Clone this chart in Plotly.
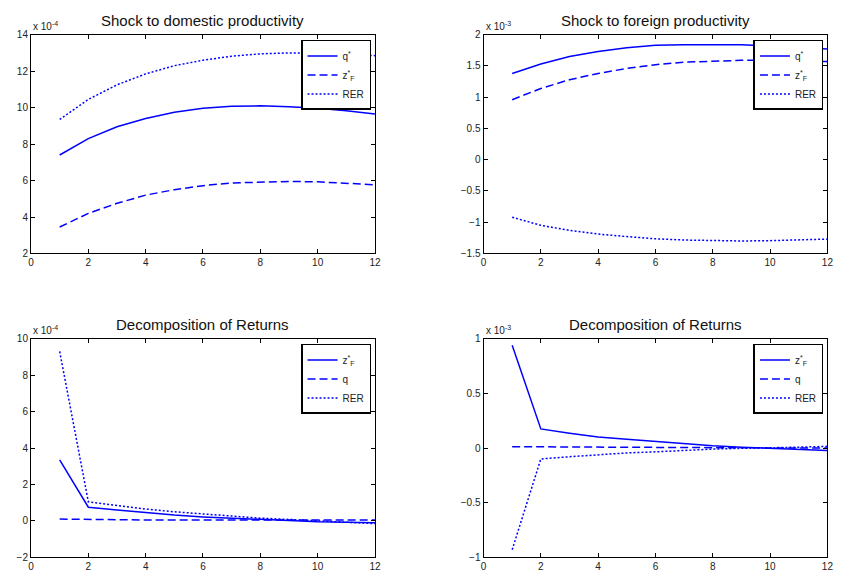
import plotly.graph_objects as go

# Horizon (periods after the shock)
periods = list(range(1, 13))

# Panel 1: shock to domestic productivity (units of 1e-4)
dom_q_star = [7.4, 8.3, 8.95, 9.4, 9.75, 9.97, 10.07, 10.1, 10.05, 9.97, 9.83, 9.65]
dom_z_star_F = [3.45, 4.2, 4.75, 5.2, 5.5, 5.72, 5.87, 5.93, 5.95, 5.93, 5.87, 5.77]
dom_rer = [9.35, 10.45, 11.25, 11.85, 12.3, 12.6, 12.82, 12.95, 13.0, 13.0, 12.95, 12.85]

# Panel 2: shock to foreign productivity (units of 1e-3)
for_q_star = [1.38, 1.53, 1.65, 1.73, 1.79, 1.83, 1.84, 1.845, 1.84, 1.82, 1.80, 1.77]
for_z_star_F = [0.96, 1.14, 1.28, 1.38, 1.46, 1.52, 1.56, 1.58, 1.59, 1.59, 1.585, 1.57]
for_rer = [-0.92, -1.05, -1.13, -1.19, -1.23, -1.265, -1.285, -1.295, -1.30, -1.295, -1.285, -1.27]

# Panel 3: decomposition of returns, domestic shock (units of 1e-4)
dec_dom_z_star_F = [3.35, 0.75, 0.6, 0.45, 0.32, 0.22, 0.14, 0.08, 0.02, -0.05, -0.08, -0.1]
dec_dom_q = [0.1, 0.07, 0.06, 0.05, 0.05, 0.05, 0.05, 0.05, 0.05, 0.05, 0.05, 0.05]
dec_dom_rer = [9.3, 1.05, 0.85, 0.65, 0.5, 0.38, 0.25, 0.15, 0.08, 0.0, -0.08, -0.15]

# Panel 4: decomposition of returns, foreign shock (units of 1e-3)
dec_for_z_star_F = [0.94, 0.175, 0.135, 0.10, 0.08, 0.058, 0.036, 0.02, 0.007, -0.003, -0.012, -0.022]
dec_for_q = [0.012, 0.01, 0.008, 0.007, 0.006, 0.005, 0.004, 0.003, 0.002, 0.001, 0.0, 0.0]
dec_for_rer = [-0.93, -0.1, -0.08, -0.063, -0.045, -0.035, -0.02, -0.01, -0.003, 0.0, 0.008, 0.015]

titles = ["Shock to domestic productivity", "Shock to foreign productivity",
          "Decomposition of Returns", "Decomposition of Returns"]
exponents = ["-4", "-3", "-4", "-3"]
y_ranges = [[2, 14], [-1.5, 2], [-2, 10], [-1, 1]]
y_dticks = [2, 0.5, 2, 0.5]

W, H = 843, 580
BLUE = "#0000ff"
FONT = "Liberation Sans, Arial, sans-serif"

# axes boxes in pixels: (left, right, top, bottom)
boxes = [(28.3, 376, 29.3, 252.7), (485.7, 833.3, 29.3, 252.7),
         (28.3, 376, 339.7, 563), (485.7, 833.3, 339.7, 563)]

panels = [
    [("q<sup>*</sup>", dom_q_star, "solid"),
     ("z<sup>*</sup><sub>F</sub>", dom_z_star_F, "8px,4px"),
     ("RER", dom_rer, "2px,2px")],
    [("q<sup>*</sup>", for_q_star, "solid"),
     ("z<sup>*</sup><sub>F</sub>", for_z_star_F, "8px,4px"),
     ("RER", for_rer, "2px,2px")],
    [("z<sup>*</sup><sub>F</sub>", dec_dom_z_star_F, "solid"),
     ("q", dec_dom_q, "8px,4px"),
     ("RER", dec_dom_rer, "2px,2px")],
    [("z<sup>*</sup><sub>F</sub>", dec_for_z_star_F, "solid"),
     ("q", dec_for_q, "8px,4px"),
     ("RER", dec_for_rer, "2px,2px")],
]

fig = go.Figure()
layout = dict(
    width=W, height=H, margin=dict(l=0, r=0, t=0, b=0),
    paper_bgcolor="white", plot_bgcolor="white",
    font=dict(family=FONT, size=10, color="#222"),
    annotations=[],
)

for i, (series, box) in enumerate(zip(panels, boxes)):
    n = i + 1
    xa = "x" if n == 1 else f"x{n}"
    ya = "y" if n == 1 else f"y{n}"
    lg = "legend" if n == 1 else f"legend{n}"
    for name, vals, dash in series:
        fig.add_trace(go.Scatter(
            x=periods, y=vals, mode="lines", name=name,
            line=dict(color=BLUE, width=1.5, dash=dash),
            xaxis=xa, yaxis=ya, legend=lg,
        ))
    l, r, t, b = box
    axis_common = dict(
        showline=True, linecolor="black", linewidth=1, mirror="ticks",
        ticks="inside", ticklen=4, tickcolor="black", tickwidth=1,
        showgrid=False, zeroline=False,
        tickfont=dict(family=FONT, size=10, color="#222"),
    )
    layout["xaxis" if n == 1 else f"xaxis{n}"] = dict(
        domain=[l / W, r / W], range=[0, 12], dtick=2, tick0=0,
        anchor=ya, **axis_common)
    layout["yaxis" if n == 1 else f"yaxis{n}"] = dict(
        domain=[1 - b / H, 1 - t / H], range=y_ranges[i], dtick=y_dticks[i],
        tick0=0, anchor=xa, **axis_common)
    layout[lg] = dict(
        x=(r - 4) / W, xanchor="right", y=1 - (t + 5.4) / H, yanchor="top",
        bgcolor="white", bordercolor="black", borderwidth=1.5,
        font=dict(family=FONT, size=10, color="#222"),
        itemwidth=30, tracegroupgap=0,
    )
    # panel title
    layout["annotations"].append(dict(
        text=titles[i], xref="paper", yref="paper",
        x=(l + r) / 2 / W, y=1 - (t - 14) / H, xanchor="center", yanchor="middle",
        showarrow=False, font=dict(family=FONT, size=15, color="#111"),
    ))
    # axis scale multiplier
    layout["annotations"].append(dict(
        text=f"x 10<sup>{exponents[i]}</sup>", xref="paper", yref="paper",
        x=l / W, y=1 - t / H, xanchor="left", yanchor="bottom", yshift=1,
        showarrow=False, font=dict(family=FONT, size=10, color="#222"),
    ))

fig.update_layout(**layout)
fig.write_html("out.html")
